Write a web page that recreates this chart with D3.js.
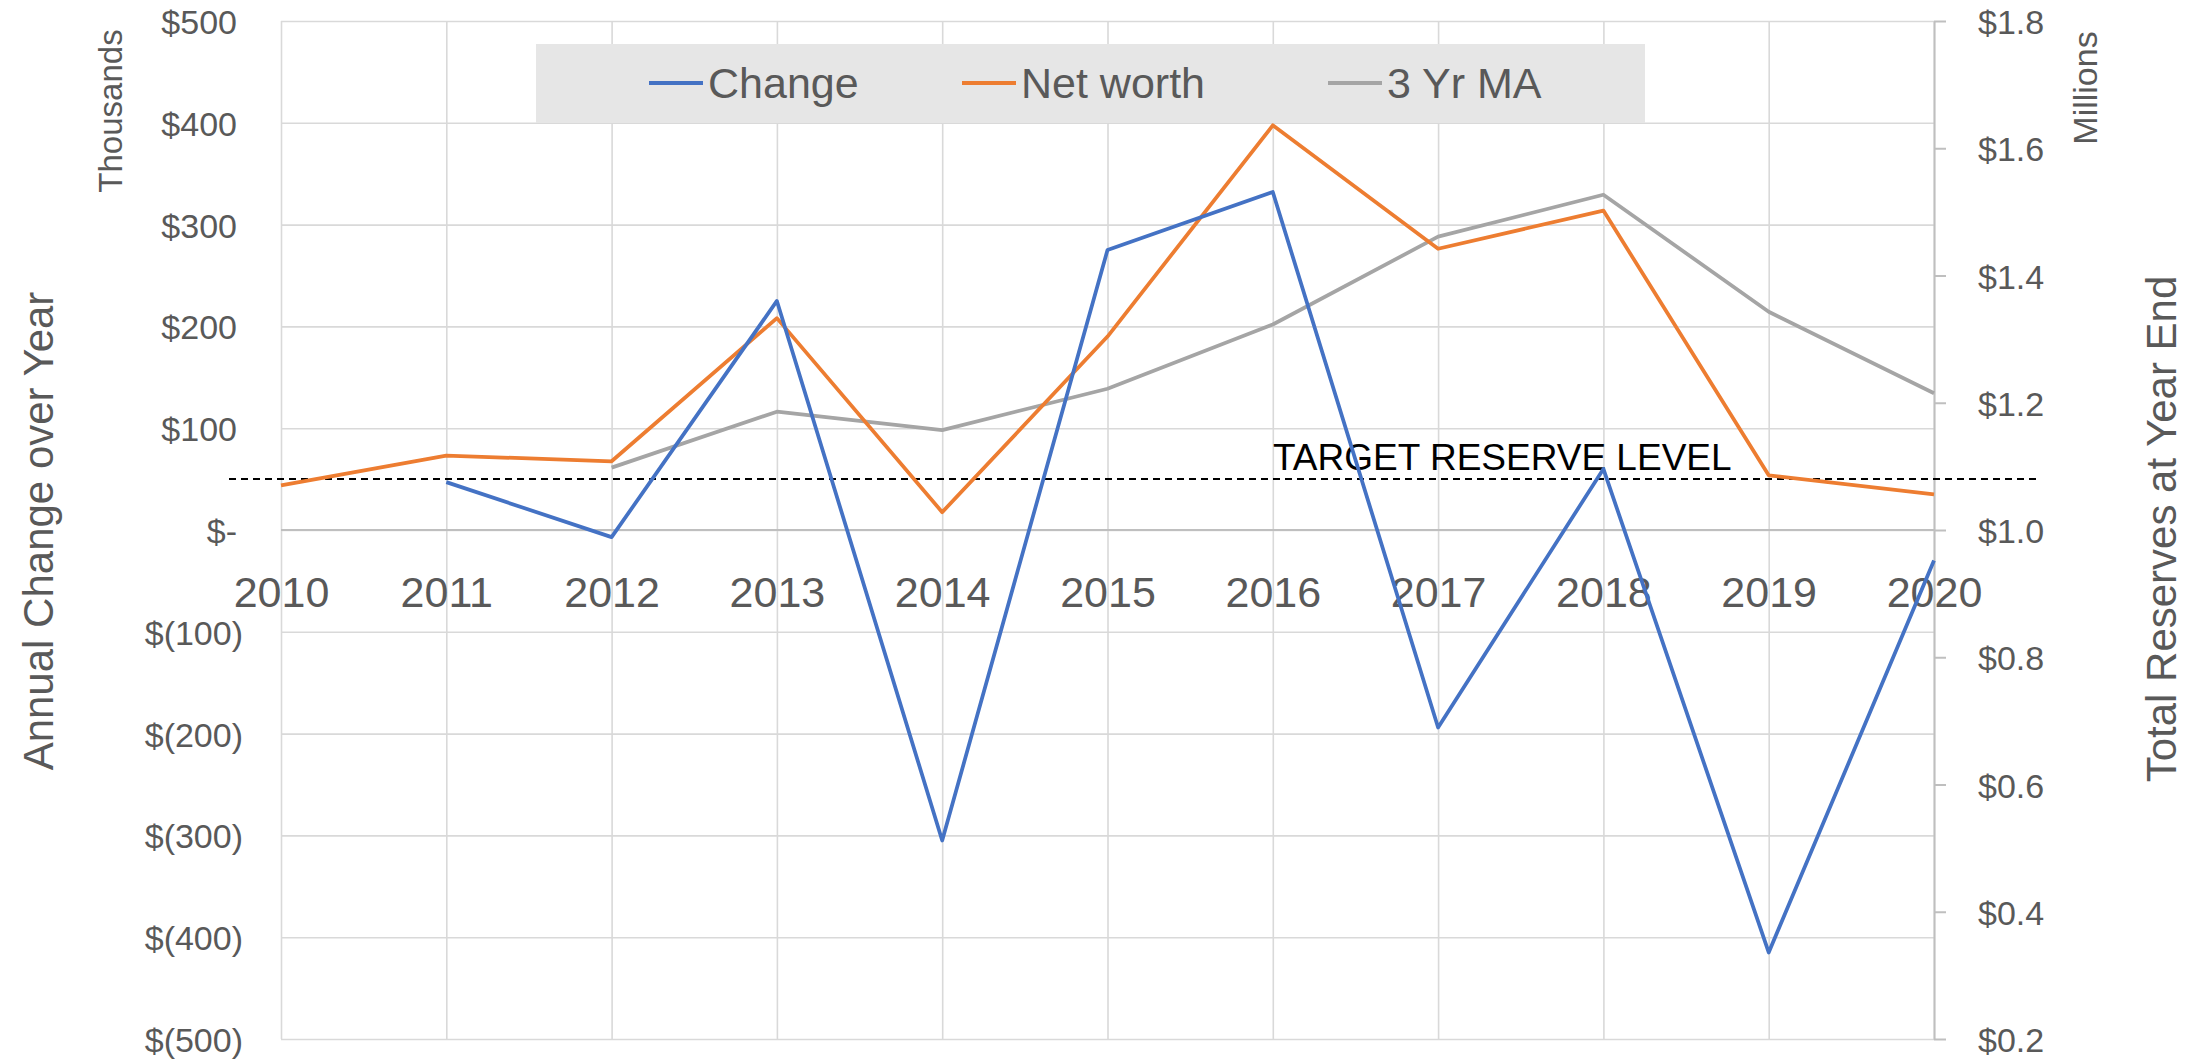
<!DOCTYPE html>
<html>
<head>
<meta charset="utf-8">
<script src="https://cdn.jsdelivr.net/npm/d3@7"></script>
<style>
  html, body { margin: 0; padding: 0; background: #fff; }
  svg { display: block; font-family: "Liberation Sans", Arial, sans-serif; }
</style>
</head>
<body>
<svg id="chart" width="2205" height="1060"></svg>
<script>
// ---- data ----
const years = [2010, 2011, 2012, 2013, 2014, 2015, 2016, 2017, 2018, 2019, 2020];
const changeYears = [2011, 2012, 2013, 2014, 2015, 2016, 2017, 2018, 2019, 2020];
const changeValues = [47, -7, 225, -305, 275, 332, -194, 60, -415, -30];          // thousands
const netWorthYears = [2010, 2011, 2012, 2013, 2014, 2015, 2016, 2017, 2018, 2019, 2020];
const netWorthValues = [1.070, 1.117, 1.108, 1.333, 1.028, 1.304, 1.636, 1.442, 1.502, 1.086, 1.056]; // millions
const maYears = [2012, 2013, 2014, 2015, 2016, 2017, 2018, 2019, 2020];
const maValues = [1.098, 1.186, 1.157, 1.222, 1.323, 1.461, 1.527, 1.343, 1.215];  // millions
const targetLevel = 50; // thousands
const leftTicks = [-500, -400, -300, -200, -100, 0, 100, 200, 300, 400, 500];
const rightTicks = [0.2, 0.4, 0.6, 0.8, 1.0, 1.2, 1.4, 1.6, 1.8];
const seriesNames = ["Change", "Net worth", "3 Yr MA"];
const seriesColors = ["#4472C4", "#ED7D31", "#A5A5A5"];

// ---- layout ----
const L = 281, R = 1934, T = 21, B = 1039;
const svg = d3.select("#chart");
const x = d3.scaleLinear().domain([2010, 2020]).range([L, R]);
const yL = d3.scaleLinear().domain([-500, 500]).range([B, T]);
const yR = d3.scaleLinear().domain([0.2, 1.8]).range([B, T]);
const textColor = "#595959";
const FONT = "Liberation Sans, Arial, sans-serif";

// horizontal gridlines
const gh = svg.append("g").attr("transform", `translate(${L},0)`)
  .call(d3.axisLeft(yL).tickValues(leftTicks).tickSize(-(R - L)).tickFormat(""));
gh.select(".domain").remove();
gh.selectAll("line").attr("stroke", "#d9d9d9").attr("stroke-width", 1.6);

// vertical gridlines
const gv = svg.append("g").attr("transform", `translate(0,${B})`)
  .call(d3.axisBottom(x).tickValues(years).tickSize(-(B - T)).tickFormat(""));
gv.select(".domain").remove();
gv.selectAll("line").attr("stroke", "#d9d9d9").attr("stroke-width", 1.6);

// zero line (category axis)
svg.append("line").attr("x1", L).attr("x2", R).attr("y1", yL(0)).attr("y2", yL(0))
  .attr("stroke", "#bfbfbf").attr("stroke-width", 2);

// left axis labels
const fmtLeft = v => v === 0 ? "$-" : (v < 0 ? `$(${Math.abs(v)})` : `$${v}`);
const ga = svg.append("g").attr("transform", `translate(237,0)`)
  .call(d3.axisLeft(yL).tickValues(leftTicks).tickSize(0).tickPadding(0).tickFormat(fmtLeft));
ga.select(".domain").remove();
ga.selectAll("text").attr("fill", textColor).attr("font-size", 34)
  .attr("font-family", FONT)
  .attr("x", d => d < 0 ? 6 : 0).attr("dy", "0.37em");

// right axis
const gr = svg.append("g").attr("transform", `translate(${R},0)`)
  .call(d3.axisRight(yR).tickValues(rightTicks).tickSize(12).tickSizeOuter(0).tickPadding(32)
    .tickFormat(d3.format("$.1f")));
gr.select(".domain").attr("stroke", "#bfbfbf").attr("stroke-width", 2);
gr.selectAll("line").attr("stroke", "#bfbfbf").attr("stroke-width", 2);
gr.selectAll("text").attr("fill", textColor).attr("font-size", 34)
  .attr("font-family", FONT).attr("dy", "0.37em");

// x labels
const gx = svg.append("g").attr("transform", `translate(0,${yL(0)})`)
  .call(d3.axisBottom(x).tickValues(years).tickSize(0).tickFormat(d3.format("d")));
gx.select(".domain").remove();
gx.selectAll("text").attr("fill", textColor).attr("font-size", 43)
  .attr("font-family", FONT)
  .attr("y", 77).attr("dy", 0);

// axis titles
svg.append("text").attr("transform", `translate(53,531) rotate(-90)`)
  .attr("text-anchor", "middle").attr("fill", textColor).attr("font-size", 42)
  .text("Annual Change over Year");
svg.append("text").attr("transform", `translate(122,111) rotate(-90)`)
  .attr("text-anchor", "middle").attr("fill", textColor).attr("font-size", 33)
  .text("Thousands");
svg.append("text").attr("transform", `translate(2097,88) rotate(-90)`)
  .attr("text-anchor", "middle").attr("fill", textColor).attr("font-size", 34)
  .text("Millions");
svg.append("text").attr("transform", `translate(2176,529) rotate(-90)`)
  .attr("text-anchor", "middle").attr("fill", textColor).attr("font-size", 42)
  .text("Total Reserves at Year End");

// target line + label
svg.append("line").attr("x1", 229).attr("x2", 2037)
  .attr("y1", yL(targetLevel)).attr("y2", yL(targetLevel))
  .attr("stroke", "#000").attr("stroke-width", 2).attr("stroke-dasharray", "7,5");
svg.append("text").attr("x", 1273).attr("y", yL(targetLevel) - 9)
  .attr("fill", "#000").attr("font-size", 37).text("TARGET RESERVE LEVEL");

// series lines
const lineL = d3.line().x(d => x(d[0])).y(d => yL(d[1]));
const lineR = d3.line().x(d => x(d[0])).y(d => yR(d[1]));
const changeData = d3.zip(changeYears, changeValues);
const nwData = d3.zip(netWorthYears, netWorthValues);
const maData = d3.zip(maYears, maValues);

svg.append("path").datum(maData).attr("d", lineR).attr("fill", "none")
  .attr("stroke", seriesColors[2]).attr("stroke-width", 3.75).attr("stroke-linejoin", "round");
svg.append("path").datum(nwData).attr("d", lineR).attr("fill", "none")
  .attr("stroke", seriesColors[1]).attr("stroke-width", 3.75).attr("stroke-linejoin", "round");
svg.append("path").datum(changeData).attr("d", lineL).attr("fill", "none")
  .attr("stroke", seriesColors[0]).attr("stroke-width", 3.75).attr("stroke-linejoin", "round");

// legend
const lg = svg.append("g");
lg.append("rect").attr("x", 536).attr("y", 44).attr("width", 1109).attr("height", 79).attr("fill", "#e6e6e6");
const legendX = [649, 962, 1328];
seriesNames.forEach((name, i) => {
  lg.append("line").attr("x1", legendX[i]).attr("x2", legendX[i] + 54)
    .attr("y1", 83).attr("y2", 83).attr("stroke", seriesColors[i]).attr("stroke-width", 4);
  lg.append("text").attr("x", legendX[i] + 59).attr("y", 83).attr("dy", "0.36em")
    .attr("fill", textColor).attr("font-size", 43).text(name);
});
</script>
</body>
</html>
